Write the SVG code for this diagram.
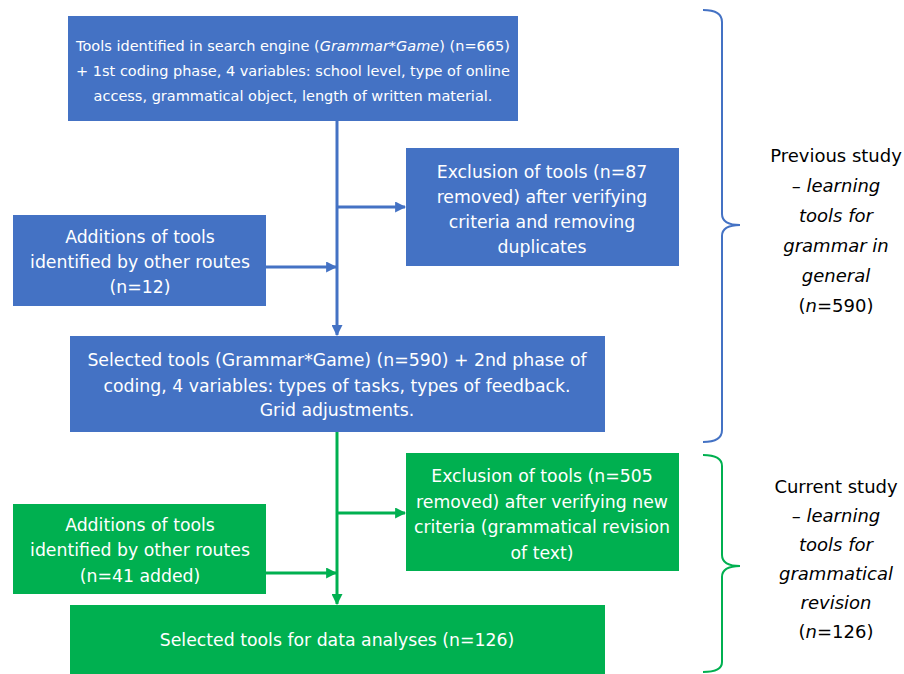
<svg xmlns="http://www.w3.org/2000/svg" width="904" height="674" viewBox="0 0 904 674">
<style>
.b{fill:#4472C4}
.g{fill:#00B050}
.t{font-family:"DejaVu Sans","Liberation Sans",sans-serif;font-size:17.3px;fill:#fff;text-anchor:middle}
.t1{font-size:14.5px}
.s{font-family:"DejaVu Sans","Liberation Sans",sans-serif;font-size:18px;fill:#000;text-anchor:middle}
.cb{stroke:#4472C4;stroke-width:3;fill:none}
.cg{stroke:#00B050;stroke-width:3;fill:none}
.brb{stroke:#4472C4;stroke-width:2;fill:none}
.brg{stroke:#00B050;stroke-width:2;fill:none}
</style>
<defs>
<marker id="ab" viewBox="0 0 10 10" refX="9" refY="5" markerWidth="11" markerHeight="11" markerUnits="userSpaceOnUse" orient="auto"><path d="M0,0 L10,5 L0,10 Z" fill="#4472C4"/></marker>
<marker id="ag" viewBox="0 0 10 10" refX="9" refY="5" markerWidth="11" markerHeight="11" markerUnits="userSpaceOnUse" orient="auto"><path d="M0,0 L10,5 L0,10 Z" fill="#00B050"/></marker>
</defs>
<rect width="904" height="674" fill="#fff"/>
<g id="connectors">
<path class="cb" d="M337,121 V335" marker-end="url(#ab)"/>
<path class="cb" d="M337,207 H405" marker-end="url(#ab)"/>
<path class="cb" d="M266,267 H336" marker-end="url(#ab)"/>
<path class="cg" d="M337,432 V604" marker-end="url(#ag)"/>
<path class="cg" d="M337,513 H405" marker-end="url(#ag)"/>
<path class="cg" d="M266,573 H336" marker-end="url(#ag)"/>
</g>
<g id="n1">
<rect class="b" x="68" y="16" width="450" height="105"/>
<text class="t t1" x="293" y="51">Tools identified in search engine (<tspan font-style="italic">Grammar*Game</tspan>) (n=665)</text>
<text class="t t1" x="293" y="76">+ 1st coding phase, 4 variables: school level, type of online</text>
<text class="t t1" x="293" y="101">access, grammatical object, length of written material.</text>
</g>
<g id="n2">
<rect class="b" x="406" y="148" width="273" height="118"/>
<text class="t" x="542" y="178">Exclusion of tools (n=87</text>
<text class="t" x="542" y="203">removed) after verifying</text>
<text class="t" x="542" y="228">criteria and removing</text>
<text class="t" x="542" y="253">duplicates</text>
</g>
<g id="n3">
<rect class="b" x="13" y="215" width="253" height="91"/>
<text class="t" x="140" y="243">Additions of tools</text>
<text class="t" x="140" y="268">identified by other routes</text>
<text class="t" x="140" y="293">(n=12)</text>
</g>
<g id="n4">
<rect class="b" x="70" y="336" width="535" height="96"/>
<text class="t" x="337" y="366">Selected tools (Grammar*Game) (n=590) + 2nd phase of</text>
<text class="t" x="337" y="392">coding, 4 variables: types of tasks, types of feedback.</text>
<text class="t" x="337" y="416">Grid adjustments.</text>
</g>
<g id="n5">
<rect class="g" x="406" y="453" width="273" height="118"/>
<text class="t" x="542" y="482">Exclusion of tools (n=505</text>
<text class="t" x="542" y="508">removed) after verifying new</text>
<text class="t" x="542" y="533">criteria (grammatical revision</text>
<text class="t" x="542" y="559">of text)</text>
</g>
<g id="n6">
<rect class="g" x="13" y="504" width="253" height="90"/>
<text class="t" x="140" y="531">Additions of tools</text>
<text class="t" x="140" y="556">identified by other routes</text>
<text class="t" x="140" y="582">(n=41 added)</text>
</g>
<g id="n7">
<rect class="g" x="70" y="605" width="535" height="69"/>
<text class="t" x="337" y="646">Selected tools for data analyses (n=126)</text>
</g>
<g id="brace1">
<path class="brb" d="M703,10 Q722,10 722,22 L722,214 Q722,225 740,225 Q722,225 722,236 L722,430 Q722,442 703,442"/>
<text class="s" x="836" y="162">Previous study</text>
<text class="s" x="836" y="192">– <tspan font-style="italic">learning</tspan></text>
<text class="s" x="836" y="222" font-style="italic">tools for</text>
<text class="s" x="836" y="252" font-style="italic">grammar in</text>
<text class="s" x="836" y="282" font-style="italic">general</text>
<text class="s" x="836" y="312">(<tspan font-style="italic">n</tspan>=590)</text>
</g>
<g id="brace2">
<path class="brg" d="M703,455 Q722,455 722,466 L722,555 Q722,566 740,566 Q722,566 722,577 L722,662 Q722,672 703,672"/>
<text class="s" x="836" y="493">Current study</text>
<text class="s" x="836" y="522">– <tspan font-style="italic">learning</tspan></text>
<text class="s" x="836" y="551" font-style="italic">tools for</text>
<text class="s" x="836" y="580" font-style="italic">grammatical</text>
<text class="s" x="836" y="609" font-style="italic">revision</text>
<text class="s" x="836" y="638">(<tspan font-style="italic">n</tspan>=126)</text>
</g>
</svg>
